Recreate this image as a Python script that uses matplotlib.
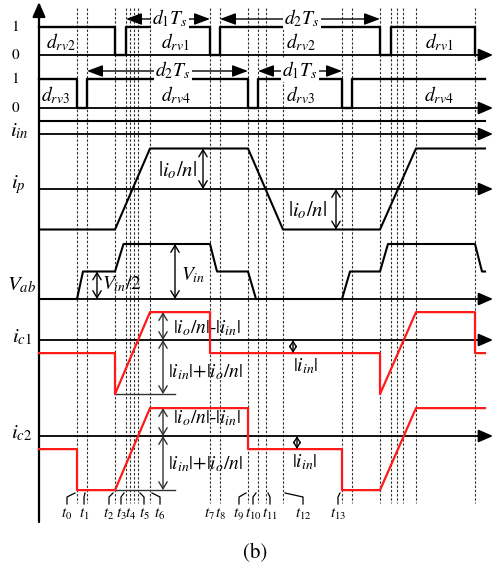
import matplotlib
matplotlib.use("Agg")
import matplotlib.pyplot as plt

plt.rcParams['mathtext.fontset'] = 'stix'
plt.rcParams['font.family'] = ['STIXGeneral', 'Liberation Serif', 'DejaVu Serif']

# ---------------- data (schematic time instants & levels) ----------------
x_start, x_end = 39, 485
t_marks = [77, 87, 115, 126, 130, 133.5, 138, 150, 210, 220, 248, 258, 266, 283,
           342, 352, 380, 391, 397, 403, 416, 475]

drvA_t = [39, 115, 115, 126, 126, 210, 210, 220, 220, 380, 380, 391, 391, 475, 475]
drvA_v = [1, 1, 0, 0, 1, 1, 0, 0, 1, 1, 0, 0, 1, 1, 0]
drvA_labels = ['$d_{rv2}$', '$d_{rv1}$', '$d_{rv2}$', '$d_{rv1}$']
drvA_label_x = [61, 175, 301, 439]

drvB_t = [39, 77, 77, 87, 87, 248, 248, 258, 258, 342, 342, 352, 352, 485]
drvB_v = [1, 1, 0, 0, 1, 1, 0, 0, 1, 1, 0, 0, 1, 1]
drvB_labels = ['$d_{rv3}$', '$d_{rv4}$', '$d_{rv3}$', '$d_{rv4}$']
drvB_label_x = [55, 176, 300, 439]

iin_t = [39, 485]
iin_v = [0.32, 0.32]

ip_t = [39, 115, 150, 248, 283, 380, 416, 485]
ip_v = [-1, -1, 1, 1, -1, -1, 1, 1]

vab_t = [39, 77, 83, 115, 123.5, 210, 217, 248, 256, 342, 350, 380, 388, 475, 482, 485]
vab_v = [0, 0, 0.5, 0.5, 1, 1, 0.5, 0.5, 0, 0, 0.5, 0.5, 1, 1, 0.5, 0.5]

ic1_t = [39, 115, 115, 150, 210, 210, 380, 380, 416, 475, 475, 485]
ic1_v = [-0.32, -0.32, -1.32, 0.68, 0.68, -0.32, -0.32, -1.32, 0.68, 0.68, -0.32, -0.32]

ic2_t = [39, 77, 77, 115, 150, 248, 248, 342, 342, 380, 416, 485]
ic2_v = [-0.32, -0.32, -1.32, -1.32, 0.68, 0.68, -0.32, -0.32, -1.32, -1.32, 0.68, 0.68]

time_labels = ['$t_0$', '$t_1$', '$t_2$', '$t_3$', '$t_4$', '$t_5$', '$t_6$', '$t_7$',
               '$t_8$', '$t_9$', '$t_{10}$', '$t_{11}$', '$t_{12}$', '$t_{13}$']
time_label_x = [67, 84, 109, 121, 131, 144, 160, 209, 220, 239, 253, 270, 303, 338]
time_label_target = [77, 87, 115, 126, 132, 138, 150, 210, 220, 248, 258, 266, 283, 342]

# ---------------- layout (row baselines in px, px per unit) ----------------
rows = {'A': (55, 28), 'B': (108, 29), 'iin': (134, 41), 'ip': (189, 40.5),
        'vab': (299, 55), 'ic1': (340, 41), 'ic2': (436, 41)}

def Y(row, v):
    b, s = rows[row]
    return [b - s * x for x in v] if isinstance(v, (list, tuple)) else b - s * v

fig = plt.figure(figsize=(4.96, 5.73), dpi=100)
ax = fig.add_axes([0, 0, 1, 1])
ax.set_xlim(0, 496)
ax.set_ylim(573, 0)
ax.axis('off')

# dashed time markers
for x in t_marks:
    ax.plot([x, x], [8, 503], ls=(0, (2.2, 1.6)), lw=0.8, color='#333333', zorder=1)

# axes with arrows
def haxis(y):
    ax.annotate('', xy=(493, y), xytext=(x_start, y),
                arrowprops=dict(arrowstyle='-|>,head_length=0.8,head_width=0.35',
                                lw=1.3, color='k', mutation_scale=11, shrinkA=0, shrinkB=0),
                zorder=3)

for r in ['A', 'B', 'iin', 'ip', 'vab', 'ic1', 'ic2']:
    haxis(rows[r][0])
ax.annotate('', xy=(x_start, 2), xytext=(x_start, 522),
            arrowprops=dict(arrowstyle='-|>,head_length=0.8,head_width=0.35',
                            lw=1.6, color='k', mutation_scale=11, shrinkA=0, shrinkB=0),
            zorder=3)

# waveforms
ax.plot(drvA_t, Y('A', drvA_v), color='k', lw=1.7, zorder=4)
ax.plot(drvB_t, Y('B', drvB_v), color='k', lw=1.7, zorder=4)
ax.plot(iin_t, Y('iin', iin_v), color='k', lw=1.5, zorder=4)
ax.plot(ip_t, Y('ip', ip_v), color='k', lw=1.5, zorder=4)
ax.plot(vab_t, Y('vab', vab_v), color='k', lw=1.5, zorder=4)
ax.plot(ic1_t, Y('ic1', ic1_v), color='#ff1a1a', lw=1.6, zorder=4)
ax.plot(ic2_t, Y('ic2', ic2_v), color='#ff1a1a', lw=1.6, zorder=4)

# row labels
lab_fs = 15
ax.text(15, Y('A', 1), '1', fontsize=11, ha='center', va='center')
ax.text(15, Y('A', 0), '0', fontsize=11, ha='center', va='center')
ax.text(15, Y('B', 1), '1', fontsize=11, ha='center', va='center')
ax.text(15, Y('B', 0), '0', fontsize=11, ha='center', va='center')
ax.text(19, 131, '$i_{in}$', fontsize=lab_fs, ha='center', va='center')
ax.text(18, 185, '$i_p$', fontsize=lab_fs, ha='center', va='center')
ax.text(21, 285, '$V_{ab}$', fontsize=lab_fs, ha='center', va='center')
ax.text(22, 337, '$i_{c1}$', fontsize=lab_fs, ha='center', va='center')
ax.text(22, 433, '$i_{c2}$', fontsize=lab_fs, ha='center', va='center')

for s, x in zip(drvA_labels, drvA_label_x):
    ax.text(x, 42, s, fontsize=14, ha='center', va='center')
for s, x in zip(drvB_labels, drvB_label_x):
    ax.text(x, 95, s, fontsize=14, ha='center', va='center')

# duty-cycle spans
def span(x0, x1, y, label, xt):
    ax.annotate('', xy=(x1, y), xytext=(x0, y),
                arrowprops=dict(arrowstyle='<|-|>,head_length=0.8,head_width=0.3',
                                lw=1.0, color='k', mutation_scale=12, shrinkA=0, shrinkB=0),
                zorder=3)
    ax.text(xt, y - 1, label, fontsize=14, ha='center', va='center', zorder=5,
            bbox=dict(facecolor='white', edgecolor='none', pad=1.0))

span(126, 210, 19, '$d_1T_s$', 170)
span(220, 380, 19, '$d_2T_s$', 302)
span(87, 248, 71, '$d_2T_s$', 173)
span(258, 342, 71, '$d_1T_s$', 300)

# dimension arrows
def dim(x, y0, y1, color='k', ms=10, lw=1.0):
    ax.annotate('', xy=(x, y1), xytext=(x, y0),
                arrowprops=dict(arrowstyle='<->,head_length=0.5,head_width=0.3',
                                lw=lw, color=color, mutation_scale=ms, shrinkA=0, shrinkB=0),
                zorder=5)

dim(203, Y('ip', 1), Y('ip', 0))
ax.text(178, 170, '$|i_o/n|$', fontsize=15, ha='center', va='center')
dim(336, Y('ip', 0), Y('ip', -1))
ax.text(308, 210, '$|i_o/n|$', fontsize=15, ha='center', va='center')

dim(97, Y('vab', 0.5), Y('vab', 0))
ax.text(122, 284, '$V_{in}/2$', fontsize=14, ha='center', va='center')
dim(175, Y('vab', 1), Y('vab', 0))
ax.text(193, 275, '$V_{in}$', fontsize=14, ha='center', va='center')

grey = '#333333'
for r, yt1, yt2 in [('ic1', 328, 372), ('ic2', 418, 464)]:
    ax.plot([115, 175], [Y(r, -1.32)] * 2, color=grey, lw=1.0, zorder=3)
    dim(163, Y(r, 0.68), Y(r, 0), color=grey)
    dim(163, Y(r, 0), Y(r, -1.32), color=grey)
    ax.text(207, yt1, '$|i_o/n|$-$|i_{in}|$', fontsize=14, ha='center', va='center')
    ax.text(205, yt2, '$|i_{in}|$+$|i_o/n|$', fontsize=14, ha='center', va='center')

dim(293, Y('ic1', 0), Y('ic1', -0.32), ms=8)
ax.text(306, 366, '$|i_{in}|$', fontsize=14, ha='center', va='center')
dim(297, Y('ic2', 0), Y('ic2', -0.32), ms=8)
ax.text(305, 462, '$|i_{in}|$', fontsize=14, ha='center', va='center')

# time labels and leader brackets
for s, xl, xt in zip(time_labels, time_label_x, time_label_target):
    ax.text(xl, 514, s, fontsize=11, ha='center', va='center')
    if abs(xl - xt) > 2:
        ax.plot([xl, xl, xt - (2 if xt > xl else -2)], [504, 497, 493], color='k', lw=0.9)

ax.text(255, 553, '(b)', fontsize=15, ha='center', va='center')

fig.savefig('out.png', dpi=100)
